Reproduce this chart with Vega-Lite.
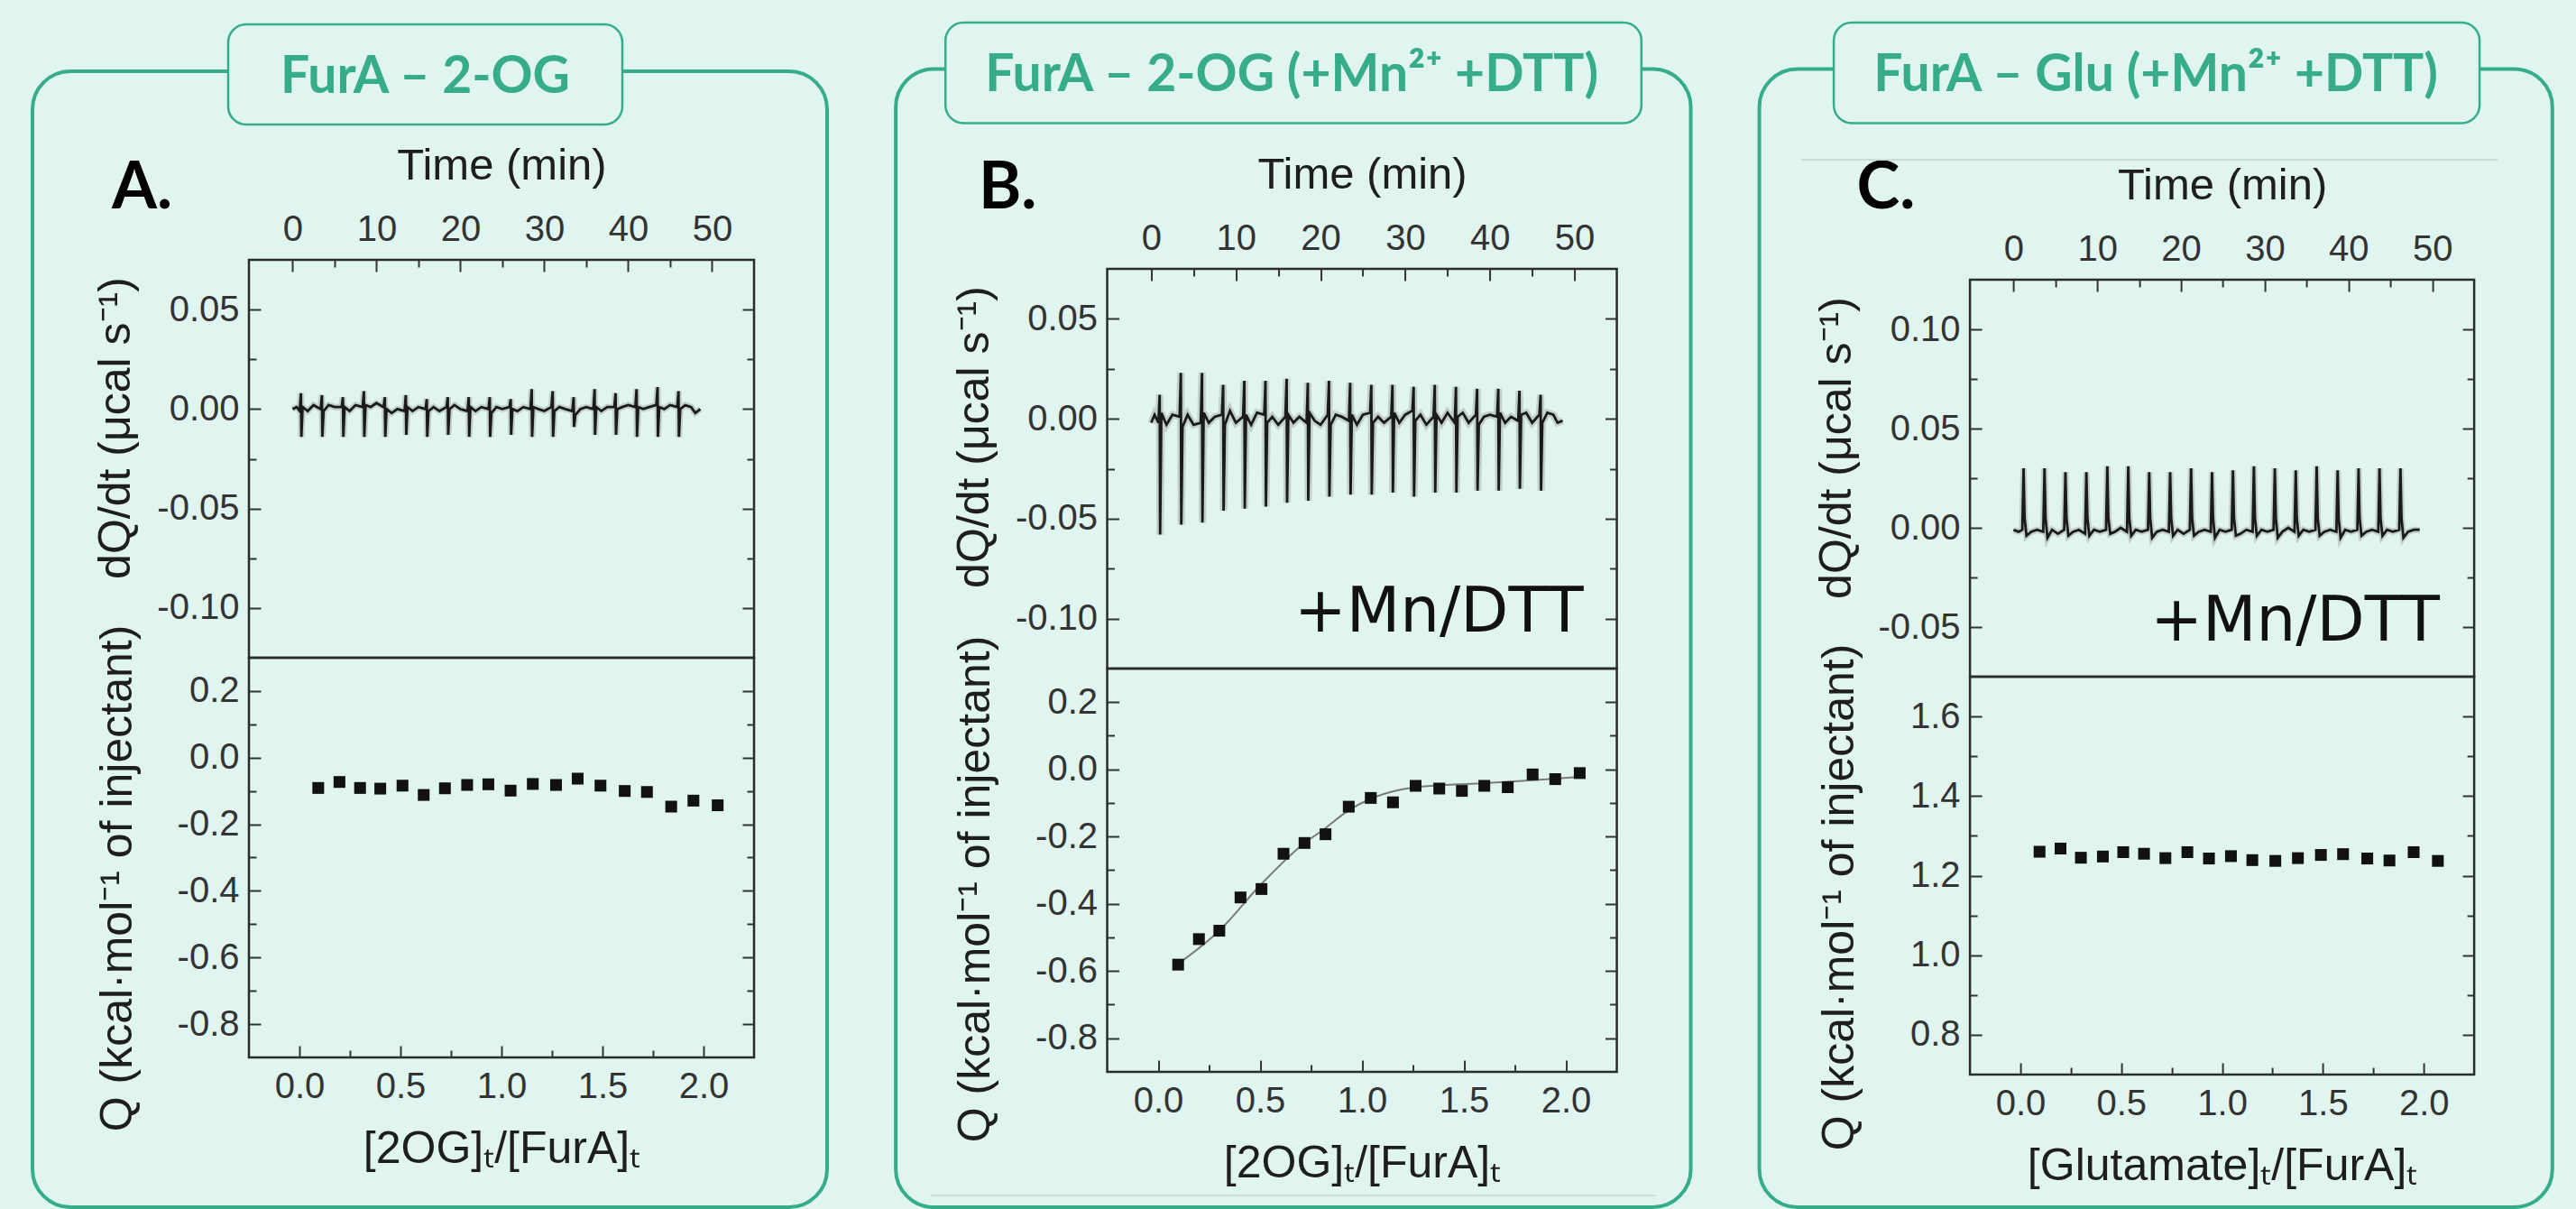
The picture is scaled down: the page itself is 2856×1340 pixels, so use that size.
{
"$schema":"https://vega.github.io/schema/vega-lite/v6.json",
"background":"#E0F5EF",
"padding":{"left":32,"top":22,"right":40,"bottom":10},
"autosize":{"type":"pad"},
"config":{
 "view":{"stroke":"#2b2b2b","strokeWidth":2.5},
 "axis":{"domain":false,"grid":false,"tickColor":"#333333","tickWidth":2,"labelColor":"#333333","labelFont":"Liberation Sans, Arial, sans-serif","labelFontSize":40,"titleFont":"Liberation Sans, Arial, sans-serif","titleFontWeight":"normal","titleColor":"#1e1e1e"}
},
"datasets":{
"traceA":[{"t":0,"v":0},{"t":0.5,"v":0.001},
{"t":0.85,"v":-0.001},{"t":1,"v":0.008},{"t":1.05,"v":-0.014},{"t":1.2,"v":0.001},{"t":1.8,"v":-0.001},{"t":2.5,"v":0.002},
{"t":3.35,"v":0},{"t":3.5,"v":0.007},{"t":3.55,"v":-0.014},{"t":3.7,"v":-0.001},{"t":4.3,"v":0.002},{"t":5,"v":0.001},
{"t":5.85,"v":0.001},{"t":6,"v":0.006},{"t":6.05,"v":-0.014},{"t":6.2,"v":0.001},{"t":6.8,"v":-0.001},{"t":7.5,"v":0.002},
{"t":8.35,"v":0.001},{"t":8.5,"v":0.009},{"t":8.55,"v":-0.014},{"t":8.7,"v":0.002},{"t":9.3,"v":0.001},{"t":10,"v":0.003},
{"t":10.85,"v":0.001},{"t":11,"v":0.006},{"t":11.05,"v":-0.014},{"t":11.2,"v":0},{"t":11.8,"v":-0.002},{"t":12.5,"v":0},
{"t":13.35,"v":-0.001},{"t":13.5,"v":0.007},{"t":13.55,"v":-0.013},{"t":13.7,"v":0.001},{"t":14.3,"v":-0.001},{"t":15,"v":0.001},
{"t":15.85,"v":0},{"t":16,"v":0.005},{"t":16.05,"v":-0.014},{"t":16.2,"v":-0.001},{"t":16.8,"v":0.001},{"t":17.5,"v":-0.001},
{"t":18.35,"v":0.001},{"t":18.5,"v":0.006},{"t":18.55,"v":-0.013},{"t":18.7,"v":0},{"t":19.3,"v":0.002},{"t":20,"v":0},
{"t":20.85,"v":-0.001},{"t":21,"v":0.006},{"t":21.05,"v":-0.014},{"t":21.2,"v":0.001},{"t":21.8,"v":-0.001},{"t":22.5,"v":0.001},
{"t":23.35,"v":0},{"t":23.5,"v":0.006},{"t":23.55,"v":-0.014},{"t":23.7,"v":-0.002},{"t":24.3,"v":0.001},{"t":25,"v":0},
{"t":25.85,"v":0.001},{"t":26,"v":0.005},{"t":26.05,"v":-0.013},{"t":26.2,"v":0},{"t":26.8,"v":-0.001},{"t":27.5,"v":0.001},
{"t":28.35,"v":0},{"t":28.5,"v":0.01},{"t":28.55,"v":-0.014},{"t":28.7,"v":0.001},{"t":29.3,"v":0},{"t":30,"v":-0.001},
{"t":30.85,"v":0.001},{"t":31,"v":0.009},{"t":31.05,"v":-0.014},{"t":31.2,"v":-0.001},{"t":31.8,"v":0.001},{"t":32.5,"v":0},
{"t":33.35,"v":-0.001},{"t":33.5,"v":0.006},{"t":33.55,"v":-0.009},{"t":33.7,"v":-0.003},{"t":34.3,"v":0},{"t":35,"v":0.001},
{"t":35.85,"v":0},{"t":36,"v":0.01},{"t":36.05,"v":-0.013},{"t":36.2,"v":0.001},{"t":36.8,"v":-0.001},{"t":37.5,"v":0.001},
{"t":38.35,"v":0.001},{"t":38.5,"v":0.008},{"t":38.55,"v":-0.013},{"t":38.7,"v":0},{"t":39.3,"v":0.001},{"t":40,"v":0.002},
{"t":40.85,"v":0.001},{"t":41,"v":0.01},{"t":41.05,"v":-0.014},{"t":41.2,"v":0.001},{"t":41.8,"v":0},{"t":42.5,"v":0.001},
{"t":43.35,"v":0.002},{"t":43.5,"v":0.011},{"t":43.55,"v":-0.014},{"t":43.7,"v":0.001},{"t":44.3,"v":0},{"t":45,"v":0.002},
{"t":45.85,"v":0.001},{"t":46,"v":0.009},{"t":46.05,"v":-0.014},{"t":46.2,"v":0},{"t":46.8,"v":0.002},{"t":47.5,"v":0.001},
{"t":48,"v":-0.002},{"t":48.6,"v":0}],
"traceB":[{"t":0,"v":-0.002},{"t":0.4,"v":0.002},
{"t":0.85,"v":-0.002},{"t":1,"v":0.012},{"t":1.05,"v":-0.058},{"t":1.2,"v":0.003},{"t":1.8,"v":-0.003},{"t":2.5,"v":0.002},
{"t":3.35,"v":0.001},{"t":3.5,"v":0.023},{"t":3.55,"v":-0.053},{"t":3.7,"v":-0.004},{"t":4.3,"v":0.002},{"t":5,"v":-0.003},
{"t":5.85,"v":-0.002},{"t":6,"v":0.023},{"t":6.05,"v":-0.052},{"t":6.2,"v":0.003},{"t":6.8,"v":-0.002},{"t":7.5,"v":0.001},
{"t":8.35,"v":0.002},{"t":8.5,"v":0.017},{"t":8.55,"v":-0.046},{"t":8.7,"v":-0.003},{"t":9.3,"v":0.004},{"t":10,"v":-0.002},
{"t":10.85,"v":0.001},{"t":11,"v":0.019},{"t":11.05,"v":-0.045},{"t":11.2,"v":0.002},{"t":11.8,"v":-0.003},{"t":12.5,"v":0.003},
{"t":13.35,"v":0.002},{"t":13.5,"v":0.019},{"t":13.55,"v":-0.044},{"t":13.7,"v":-0.002},{"t":14.3,"v":0.001},{"t":15,"v":-0.003},
{"t":15.85,"v":0.001},{"t":16,"v":0.02},{"t":16.05,"v":-0.042},{"t":16.2,"v":0.002},{"t":16.8,"v":-0.002},{"t":17.5,"v":0.001},
{"t":18.35,"v":-0.002},{"t":18.5,"v":0.018},{"t":18.55,"v":-0.041},{"t":18.7,"v":0.003},{"t":19.3,"v":-0.001},{"t":20,"v":-0.003},
{"t":20.85,"v":0.002},{"t":21,"v":0.019},{"t":21.05,"v":-0.039},{"t":21.2,"v":-0.003},{"t":21.8,"v":0.002},{"t":22.5,"v":0.001},
{"t":23.35,"v":-0.001},{"t":23.5,"v":0.018},{"t":23.55,"v":-0.038},{"t":23.7,"v":0.002},{"t":24.3,"v":-0.003},{"t":25,"v":0.002},
{"t":25.85,"v":0.003},{"t":26,"v":0.017},{"t":26.05,"v":-0.038},{"t":26.2,"v":-0.002},{"t":26.8,"v":0.001},{"t":27.5,"v":-0.002},
{"t":28.35,"v":0.001},{"t":28.5,"v":0.017},{"t":28.55,"v":-0.037},{"t":28.7,"v":0.003},{"t":29.3,"v":-0.002},{"t":30,"v":0.002},
{"t":30.85,"v":0.004},{"t":31,"v":0.016},{"t":31.05,"v":-0.039},{"t":31.2,"v":-0.001},{"t":31.8,"v":0.002},{"t":32.5,"v":-0.003},
{"t":33.35,"v":0.001},{"t":33.5,"v":0.017},{"t":33.55,"v":-0.037},{"t":33.7,"v":0.002},{"t":34.3,"v":-0.002},{"t":35,"v":0.003},
{"t":35.85,"v":-0.002},{"t":36,"v":0.016},{"t":36.05,"v":-0.037},{"t":36.2,"v":0.001},{"t":36.8,"v":0.003},{"t":37.5,"v":-0.002},
{"t":38.35,"v":0.002},{"t":38.5,"v":0.015},{"t":38.55,"v":-0.036},{"t":38.7,"v":-0.003},{"t":39.3,"v":0.001},{"t":40,"v":0.002},
{"t":40.85,"v":0.001},{"t":41,"v":0.015},{"t":41.05,"v":-0.036},{"t":41.2,"v":0.003},{"t":41.8,"v":-0.002},{"t":42.5,"v":0.001},
{"t":43.35,"v":-0.001},{"t":43.5,"v":0.014},{"t":43.55,"v":-0.035},{"t":43.7,"v":0.002},{"t":44.3,"v":0.003},{"t":45,"v":-0.002},
{"t":45.85,"v":0.002},{"t":46,"v":0.012},{"t":46.05,"v":-0.036},{"t":46.2,"v":-0.002},{"t":46.8,"v":0.003},{"t":47.5,"v":0.002},
{"t":48,"v":-0.002},{"t":48.6,"v":-0.001}],
"traceC":[{"t":0,"v":-0.001},{"t":0.6,"v":-0.002},
{"t":1.05,"v":-0.001},{"t":1.2,"v":0.03},{"t":1.32,"v":0.005},{"t":1.55,"v":-0.004},{"t":2.1,"v":-0.002},{"t":2.8,"v":-0.001},
{"t":3.55,"v":-0.002},{"t":3.7,"v":0.03},{"t":3.82,"v":0.005},{"t":4.05,"v":-0.005},{"t":4.6,"v":-0.001},{"t":5.3,"v":-0.003},
{"t":6.05,"v":-0.001},{"t":6.2,"v":0.028},{"t":6.32,"v":0.005},{"t":6.55,"v":-0.004},{"t":7.1,"v":-0.002},{"t":7.8,"v":-0.001},
{"t":8.55,"v":-0.003},{"t":8.7,"v":0.028},{"t":8.82,"v":0.005},{"t":9.05,"v":-0.004},{"t":9.6,"v":-0.001},{"t":10.3,"v":-0.002},
{"t":11.05,"v":-0.001},{"t":11.2,"v":0.031},{"t":11.32,"v":0.005},{"t":11.55,"v":-0.003},{"t":12.1,"v":-0.002},{"t":12.8,"v":0},
{"t":13.55,"v":-0.002},{"t":13.7,"v":0.031},{"t":13.82,"v":0.005},{"t":14.05,"v":-0.004},{"t":14.6,"v":-0.001},{"t":15.3,"v":-0.002},
{"t":16.05,"v":-0.001},{"t":16.2,"v":0.028},{"t":16.32,"v":0.005},{"t":16.55,"v":-0.005},{"t":17.1,"v":-0.002},{"t":17.8,"v":-0.001},
{"t":18.55,"v":-0.002},{"t":18.7,"v":0.028},{"t":18.82,"v":0.005},{"t":19.05,"v":-0.004},{"t":19.6,"v":-0.001},{"t":20.3,"v":-0.003},
{"t":21.05,"v":-0.001},{"t":21.2,"v":0.03},{"t":21.32,"v":0.005},{"t":21.55,"v":-0.004},{"t":22.1,"v":-0.002},{"t":22.8,"v":-0.001},
{"t":23.55,"v":-0.002},{"t":23.7,"v":0.028},{"t":23.82,"v":0.005},{"t":24.05,"v":-0.005},{"t":24.6,"v":-0.001},{"t":25.3,"v":-0.002},
{"t":26.05,"v":-0.001},{"t":26.2,"v":0.029},{"t":26.32,"v":0.005},{"t":26.55,"v":-0.004},{"t":27.1,"v":-0.003},{"t":27.8,"v":-0.001},
{"t":28.55,"v":-0.002},{"t":28.7,"v":0.031},{"t":28.82,"v":0.005},{"t":29.05,"v":-0.004},{"t":29.6,"v":-0.001},{"t":30.3,"v":-0.002},
{"t":31.05,"v":-0.001},{"t":31.2,"v":0.03},{"t":31.32,"v":0.005},{"t":31.55,"v":-0.005},{"t":32.1,"v":-0.002},{"t":32.8,"v":0},
{"t":33.55,"v":-0.002},{"t":33.7,"v":0.029},{"t":33.82,"v":0.005},{"t":34.05,"v":-0.004},{"t":34.6,"v":-0.001},{"t":35.3,"v":-0.002},
{"t":36.05,"v":-0.001},{"t":36.2,"v":0.031},{"t":36.32,"v":0.005},{"t":36.55,"v":-0.004},{"t":37.1,"v":-0.002},{"t":37.8,"v":-0.001},
{"t":38.55,"v":-0.002},{"t":38.7,"v":0.029},{"t":38.82,"v":0.005},{"t":39.05,"v":-0.005},{"t":39.6,"v":-0.001},{"t":40.3,"v":-0.002},
{"t":41.05,"v":-0.001},{"t":41.2,"v":0.03},{"t":41.32,"v":0.005},{"t":41.55,"v":-0.004},{"t":42.1,"v":-0.002},{"t":42.8,"v":-0.001},
{"t":43.55,"v":-0.002},{"t":43.7,"v":0.03},{"t":43.82,"v":0.005},{"t":44.05,"v":-0.004},{"t":44.6,"v":-0.001},{"t":45.3,"v":-0.002},
{"t":46.05,"v":-0.001},{"t":46.2,"v":0.03},{"t":46.32,"v":0.005},{"t":46.55,"v":-0.005},{"t":47.1,"v":-0.002},{"t":47.8,"v":-0.001},
{"t":48.5,"v":-0.001}],
"ptsA":[{"r":0.093,"q":-0.091},{"r":0.198,"q":-0.073},{"r":0.3,"q":-0.091},{"r":0.4,"q":-0.093},{"r":0.51,"q":-0.084},{"r":0.615,"q":-0.112},{"r":0.72,"q":-0.092},{"r":0.83,"q":-0.082},{"r":0.935,"q":-0.08},{"r":1.045,"q":-0.099},{"r":1.155,"q":-0.079},{"r":1.27,"q":-0.082},{"r":1.377,"q":-0.063},{"r":1.49,"q":-0.084},{"r":1.61,"q":-0.1},{"r":1.72,"q":-0.103},{"r":1.84,"q":-0.147},{"r":1.95,"q":-0.129},{"r":2.07,"q":-0.143}],
"ptsB":[{"r":0.098,"q":-0.581},{"r":0.2,"q":-0.505},{"r":0.3,"q":-0.48},{"r":0.404,"q":-0.381},{"r":0.507,"q":-0.356},{"r":0.615,"q":-0.251},{"r":0.718,"q":-0.219},{"r":0.821,"q":-0.193},{"r":0.935,"q":-0.111},{"r":1.043,"q":-0.085},{"r":1.152,"q":-0.098},{"r":1.263,"q":-0.049},{"r":1.379,"q":-0.057},{"r":1.49,"q":-0.064},{"r":1.6,"q":-0.049},{"r":1.715,"q":-0.053},{"r":1.837,"q":-0.015},{"r":1.948,"q":-0.029},{"r":2.068,"q":-0.011}],
"fitB":[{"r":0.1,"q":-0.578},{"r":0.3,"q":-0.48},{"r":0.5,"q":-0.345},{"r":0.7,"q":-0.228},{"r":0.82,"q":-0.175},{"r":0.93,"q":-0.124},{"r":1.04,"q":-0.088},{"r":1.15,"q":-0.066},{"r":1.26,"q":-0.053},{"r":1.38,"q":-0.047},{"r":1.6,"q":-0.041},{"r":1.84,"q":-0.032},{"r":2.07,"q":-0.022}],
"ptsC":[{"r":0.095,"q":1.26},{"r":0.199,"q":1.268},{"r":0.3,"q":1.245},{"r":0.409,"q":1.248},{"r":0.51,"q":1.259},{"r":0.613,"q":1.255},{"r":0.719,"q":1.244},{"r":0.828,"q":1.259},{"r":0.935,"q":1.243},{"r":1.044,"q":1.249},{"r":1.15,"q":1.239},{"r":1.264,"q":1.237},{"r":1.376,"q":1.244},{"r":1.49,"q":1.252},{"r":1.6,"q":1.254},{"r":1.72,"q":1.243},{"r":1.83,"q":1.238},{"r":1.95,"q":1.259},{"r":2.07,"q":1.237}]
},
"spacing":68.55,
"hconcat":[
{"spacing":0,"bounds":"flush","vconcat":[
 {"width":560,"height":441,"resolve":{"axis":{"x":"independent","y":"independent"}},"layer":[
  {"data":{"name":"traceA"},"mark":{"type":"line","color":"#7a7a7a","strokeWidth":7,"opacity":0.3},
   "encoding":{"x":{"field":"t","type":"quantitative","scale":{"domain":[-5.2,55],"nice":false,"zero":false},
     "axis":{"orient":"top","values":[0,5,10,15,20,25,30,35,40,45,50],"title":"Time (min)","titleFontSize":49,"titlePadding":26,"labelPadding":27,"labelExpr":"datum.value % 10 == 0 ? datum.label : ''","tickSize":{"condition":{"test":"datum.value % 10 != 0","value":-8},"value":-13}}},
    "y":{"field":"v","type":"quantitative","scale":{"domain":[-0.125,0.075],"nice":false,"zero":false},
     "axis":{"orient":"left","values":[-0.1,-0.075,-0.05,-0.025,0,0.025,0.05],"title":"dQ/dt (μcal s⁻¹)","titleFontSize":50,"titlePadding":20,"titleY":186,"labelPadding":24,"labelExpr":"abs(datum.value*20-round(datum.value*20))>0.1 ? '' : replace(format(datum.value,'.2f'),'−','-')","tickSize":{"condition":{"test":"abs(datum.value*20-round(datum.value*20))>0.1","value":-8},"value":-13}}}}},
  {"data":{"name":"traceA"},"mark":{"type":"line","color":"#1a1a1a","strokeWidth":2.8},
   "encoding":{"x":{"field":"t","type":"quantitative","axis":null},"y":{"field":"v","type":"quantitative","axis":null}}},
  {"data":{"values":[{}]},"mark":{"type":"rule","opacity":0},
   "encoding":{"y":{"datum":0,"type":"quantitative","axis":{"orient":"right","values":[-0.1,-0.075,-0.05,-0.025,0,0.025,0.05],"labels":false,"title":null,"tickSize":{"condition":{"test":"abs(datum.value*20-round(datum.value*20))>0.1","value":-8},"value":-13}}}}},
  {"data":{"values":[{"label":"A."}]},"mark":{"type":"text","font":"Lato","fontWeight":"bold","fontSize":72,"align":"left","baseline":"alphabetic","fill":"#000000","clip":false},
   "encoding":{"x":{"datum":-21.54,"type":"quantitative","axis":null},"y":{"datum":0.1009,"type":"quantitative","axis":null},"text":{"field":"label","type":"nominal"}}}
 ]},
 {"width":560,"height":443,"resolve":{"axis":{"x":"independent","y":"independent"}},"layer":[
  {"data":{"name":"ptsA"},"mark":{"type":"square","size":170,"color":"#111111","opacity":1},
   "encoding":{"x":{"field":"r","type":"quantitative","scale":{"domain":[-0.25,2.25],"nice":false,"zero":false},
     "axis":{"orient":"bottom","values":[0,0.25,0.5,0.75,1,1.25,1.5,1.75,2],"title":"[2OG]ₜ/[FurA]ₜ","titleFontSize":50,"titlePadding":24,"labelPadding":25,"labelExpr":"abs(datum.value*2-round(datum.value*2))>0.1 ? '' : format(datum.value,'.1f')","tickSize":{"condition":{"test":"abs(datum.value*2-round(datum.value*2))>0.1","value":-8},"value":-13}}},
    "y":{"field":"q","type":"quantitative","scale":{"domain":[-0.9,0.3],"nice":false,"zero":false},
     "axis":{"orient":"left","values":[-0.8,-0.7,-0.6,-0.5,-0.4,-0.3,-0.2,-0.1,0,0.1,0.2],"title":"Q (kcal·mol⁻¹  of injectant)","titleFontSize":50,"titlePadding":41,"titleY":244,"labelPadding":24,"labelExpr":"abs(datum.value*5-round(datum.value*5))>0.1 ? '' : replace(format(datum.value,'.1f'),'−','-')","tickSize":{"condition":{"test":"abs(datum.value*5-round(datum.value*5))>0.1","value":-8},"value":-13}}}}},
  {"data":{"values":[{}]},"mark":{"type":"rule","opacity":0},
   "encoding":{"y":{"datum":0,"type":"quantitative","axis":{"orient":"right","values":[-0.8,-0.7,-0.6,-0.5,-0.4,-0.3,-0.2,-0.1,0,0.1,0.2],"labels":false,"title":null,"tickSize":{"condition":{"test":"abs(datum.value*5-round(datum.value*5))>0.1","value":-8},"value":-13}}}}},
  {"data":{"values":[{}]},"mark":{"type":"rect","fill":"transparent","stroke":"#36AC88","strokeWidth":4,"cornerRadius":42,"clip":false},
   "encoding":{"x":{"datum":-1.3214,"type":"quantitative","axis":null},"x2":{"datum":2.6116},"y":{"datum":2.0607,"type":"quantitative","axis":null},"y2":{"datum":-1.3497}}},
  {"data":{"values":[{}]},"mark":{"type":"rect","fill":"#E0F5EF","stroke":"#36AC88","strokeWidth":2.5,"cornerRadius":20,"clip":false},
   "encoding":{"x":{"datum":-0.3527,"type":"quantitative","axis":null},"x2":{"datum":1.5982},"y":{"datum":2.2016,"type":"quantitative","axis":null},"y2":{"datum":1.9009}}},
  {"data":{"values":[{"label":"FurA – 2-OG"}]},"mark":{"type":"text","font":"Lato","fontWeight":"bold","fontSize":57,"align":"center","baseline":"alphabetic","fill":"#36AC88","clip":false},
   "encoding":{"x":{"datum":0.6228,"type":"quantitative","axis":null},"y":{"datum":1.9957,"type":"quantitative","axis":null},"text":{"field":"label","type":"nominal"}}}
 ]}
]},
{"spacing":0,"bounds":"flush","vconcat":[
 {"width":565,"height":10,"data":{"values":[{}]},"mark":{"type":"point","opacity":0},"encoding":{},"view":{"stroke":null}},
 {"width":565,"height":443,"resolve":{"axis":{"x":"independent","y":"independent"}},"layer":[
  {"data":{"name":"traceB"},"mark":{"type":"line","color":"#7a7a7a","strokeWidth":8,"opacity":0.3},
   "encoding":{"x":{"field":"t","type":"quantitative","scale":{"domain":[-5.2,55],"nice":false,"zero":false},
     "axis":{"orient":"top","values":[0,5,10,15,20,25,30,35,40,45,50],"title":"Time (min)","titleFontSize":49,"titlePadding":26,"labelPadding":27,"labelExpr":"datum.value % 10 == 0 ? datum.label : ''","tickSize":{"condition":{"test":"datum.value % 10 != 0","value":-8},"value":-13}}},
    "y":{"field":"v","type":"quantitative","scale":{"domain":[-0.125,0.075],"nice":false,"zero":false},
     "axis":{"orient":"left","values":[-0.1,-0.075,-0.05,-0.025,0,0.025,0.05],"title":"dQ/dt (μcal s⁻¹)","titleFontSize":50,"titlePadding":20,"titleY":186,"labelPadding":24,"labelExpr":"abs(datum.value*20-round(datum.value*20))>0.1 ? '' : replace(format(datum.value,'.2f'),'−','-')","tickSize":{"condition":{"test":"abs(datum.value*20-round(datum.value*20))>0.1","value":-8},"value":-13}}}}},
  {"data":{"name":"traceB"},"mark":{"type":"line","color":"#1a1a1a","strokeWidth":2.8},
   "encoding":{"x":{"field":"t","type":"quantitative","axis":null},"y":{"field":"v","type":"quantitative","axis":null}}},
  {"data":{"values":[{}]},"mark":{"type":"rule","opacity":0},
   "encoding":{"y":{"datum":0,"type":"quantitative","axis":{"orient":"right","values":[-0.1,-0.075,-0.05,-0.025,0,0.025,0.05],"labels":false,"title":null,"tickSize":{"condition":{"test":"abs(datum.value*20-round(datum.value*20))>0.1","value":-8},"value":-13}}}}},
  {"data":{"values":[{"label":"B."}]},"mark":{"type":"text","font":"Lato","fontWeight":"bold","fontSize":72,"align":"left","baseline":"alphabetic","fill":"#000000","clip":false},
   "encoding":{"x":{"datum":-20.394,"type":"quantitative","axis":null},"y":{"datum":0.1053,"type":"quantitative","axis":null},"text":{"field":"label","type":"nominal"}}},
  {"data":{"values":[{"label":"+Mn/DTT"}]},"mark":{"type":"text","font":"DejaVu Sans","fontSize":69,"align":"right","baseline":"alphabetic","fill":"#111111","clip":false},
   "encoding":{"x":{"datum":51.06,"type":"quantitative","axis":null},"y":{"datum":-0.1063,"type":"quantitative","axis":null},"text":{"field":"label","type":"nominal"}}}
 ]},
 {"width":565,"height":447,"resolve":{"axis":{"x":"independent","y":"independent"}},"layer":[
  {"data":{"name":"fitB"},"mark":{"type":"line","color":"#7a7a7a","strokeWidth":2,"interpolate":"monotone"},
   "encoding":{"x":{"field":"r","type":"quantitative","scale":{"domain":[-0.25,2.25],"nice":false,"zero":false},
     "axis":{"orient":"bottom","values":[0,0.25,0.5,0.75,1,1.25,1.5,1.75,2],"title":"[2OG]ₜ/[FurA]ₜ","titleFontSize":50,"titlePadding":24,"labelPadding":25,"labelExpr":"abs(datum.value*2-round(datum.value*2))>0.1 ? '' : format(datum.value,'.1f')","tickSize":{"condition":{"test":"abs(datum.value*2-round(datum.value*2))>0.1","value":-8},"value":-13}}},
    "y":{"field":"q","type":"quantitative","scale":{"domain":[-0.9,0.3],"nice":false,"zero":false},
     "axis":{"orient":"left","values":[-0.8,-0.7,-0.6,-0.5,-0.4,-0.3,-0.2,-0.1,0,0.1,0.2],"title":"Q (kcal·mol⁻¹  of injectant)","titleFontSize":50,"titlePadding":41,"titleY":244,"labelPadding":24,"labelExpr":"abs(datum.value*5-round(datum.value*5))>0.1 ? '' : replace(format(datum.value,'.1f'),'−','-')","tickSize":{"condition":{"test":"abs(datum.value*5-round(datum.value*5))>0.1","value":-8},"value":-13}}}}},
  {"data":{"name":"ptsB"},"mark":{"type":"square","size":170,"color":"#111111","opacity":1},
   "encoding":{"x":{"field":"r","type":"quantitative","axis":null},"y":{"field":"q","type":"quantitative","axis":null}}},
  {"data":{"values":[{}]},"mark":{"type":"rule","opacity":0},
   "encoding":{"y":{"datum":0,"type":"quantitative","axis":{"orient":"right","values":[-0.8,-0.7,-0.6,-0.5,-0.4,-0.3,-0.2,-0.1,0,0.1,0.2],"labels":false,"title":null,"tickSize":{"condition":{"test":"abs(datum.value*5-round(datum.value*5))>0.1","value":-8},"value":-13}}}}},
  {"data":{"values":[{}]},"mark":{"type":"rect","fill":"transparent","stroke":"#36AC88","strokeWidth":4,"cornerRadius":42,"clip":false},
   "encoding":{"x":{"datum":-1.2872,"type":"quantitative","axis":null},"x2":{"datum":2.6128},"y":{"datum":2.0836,"type":"quantitative","axis":null},"y2":{"datum":-1.3027}}},
  {"data":{"values":[{}]},"mark":{"type":"rect","fill":"#E0F5EF","stroke":"#36AC88","strokeWidth":2.5,"cornerRadius":20,"clip":false},
   "encoding":{"x":{"datum":-1.0434,"type":"quantitative","axis":null},"x2":{"datum":2.3708},"y":{"datum":2.2221,"type":"quantitative","axis":null},"y2":{"datum":1.9228}}},
  {"data":{"values":[{"label":"FurA – 2-OG (+Mn²⁺ +DTT)"}]},"mark":{"type":"text","font":"Lato","fontWeight":"bold","fontSize":57,"align":"center","baseline":"alphabetic","fill":"#36AC88","clip":false},
   "encoding":{"x":{"datum":0.6553,"type":"quantitative","axis":null},"y":{"datum":2.0181,"type":"quantitative","axis":null},"text":{"field":"label","type":"nominal"}}},
  {"data":{"values":[{}]},"mark":{"type":"rule","color":"#c9dcd5","strokeWidth":2,"clip":false},
   "encoding":{"x":{"datum":-1.1173,"type":"quantitative","axis":null},"x2":{"datum":2.4403},"y":{"datum":-1.2678,"type":"quantitative","axis":null}}}
 ]}
]},
{"spacing":0,"bounds":"flush","vconcat":[
 {"width":559,"height":22,"data":{"values":[{}]},"mark":{"type":"point","opacity":0},"encoding":{},"view":{"stroke":null}},
 {"width":559,"height":440,"resolve":{"axis":{"x":"independent","y":"independent"}},"layer":[
  {"data":{"name":"traceC"},"mark":{"type":"line","color":"#7a7a7a","strokeWidth":7,"opacity":0.3},
   "encoding":{"x":{"field":"t","type":"quantitative","scale":{"domain":[-5.2,55],"nice":false,"zero":false},
     "axis":{"orient":"top","values":[0,5,10,15,20,25,30,35,40,45,50],"title":"Time (min)","titleFontSize":49,"titlePadding":26,"labelPadding":27,"labelExpr":"datum.value % 10 == 0 ? datum.label : ''","tickSize":{"condition":{"test":"datum.value % 10 != 0","value":-8},"value":-13}}},
    "y":{"field":"v","type":"quantitative","scale":{"domain":[-0.075,0.125],"nice":false,"zero":false},
     "axis":{"orient":"left","values":[-0.05,-0.025,0,0.025,0.05,0.075,0.1],"title":"dQ/dt (μcal s⁻¹)","titleFontSize":50,"titlePadding":20,"titleY":186,"labelPadding":24,"labelExpr":"abs(datum.value*20-round(datum.value*20))>0.1 ? '' : replace(format(datum.value,'.2f'),'−','-')","tickSize":{"condition":{"test":"abs(datum.value*20-round(datum.value*20))>0.1","value":-8},"value":-13}}}}},
  {"data":{"name":"traceC"},"mark":{"type":"line","color":"#1a1a1a","strokeWidth":2.8},
   "encoding":{"x":{"field":"t","type":"quantitative","axis":null},"y":{"field":"v","type":"quantitative","axis":null}}},
  {"data":{"values":[{}]},"mark":{"type":"rule","opacity":0},
   "encoding":{"y":{"datum":0,"type":"quantitative","axis":{"orient":"right","values":[-0.05,-0.025,0,0.025,0.05,0.075,0.1],"labels":false,"title":null,"tickSize":{"condition":{"test":"abs(datum.value*20-round(datum.value*20))>0.1","value":-8},"value":-13}}}}},
  {"data":{"values":[{"label":"C."}]},"mark":{"type":"text","font":"Lato","fontWeight":"bold","fontSize":72,"align":"left","baseline":"alphabetic","fill":"#000000","clip":false},
   "encoding":{"x":{"datum":-18.726,"type":"quantitative","axis":null},"y":{"datum":0.1609,"type":"quantitative","axis":null},"text":{"field":"label","type":"nominal"}}},
  {"data":{"values":[{"label":"+Mn/DTT"}]},"mark":{"type":"text","font":"DejaVu Sans","fontSize":69,"align":"right","baseline":"alphabetic","fill":"#111111","clip":false},
   "encoding":{"x":{"datum":50.875,"type":"quantitative","axis":null},"y":{"datum":-0.0568,"type":"quantitative","axis":null},"text":{"field":"label","type":"nominal"}}}
 ]},
 {"width":559,"height":441,"resolve":{"axis":{"x":"independent","y":"independent"}},"layer":[
  {"data":{"name":"ptsC"},"mark":{"type":"square","size":170,"color":"#111111","opacity":1},
   "encoding":{"x":{"field":"r","type":"quantitative","scale":{"domain":[-0.25,2.25],"nice":false,"zero":false},
     "axis":{"orient":"bottom","values":[0,0.25,0.5,0.75,1,1.25,1.5,1.75,2],"title":"[Glutamate]ₜ/[FurA]ₜ","titleFontSize":50,"titlePadding":24,"labelPadding":25,"labelExpr":"abs(datum.value*2-round(datum.value*2))>0.1 ? '' : format(datum.value,'.1f')","tickSize":{"condition":{"test":"abs(datum.value*2-round(datum.value*2))>0.1","value":-8},"value":-13}}},
    "y":{"field":"q","type":"quantitative","scale":{"domain":[0.7,1.7],"nice":false,"zero":false},
     "axis":{"orient":"left","values":[0.8,0.9,1,1.1,1.2,1.3,1.4,1.5,1.6],"title":"Q (kcal·mol⁻¹  of injectant)","titleFontSize":50,"titlePadding":53,"titleY":244,"labelPadding":24,"labelExpr":"abs(datum.value*5-round(datum.value*5))>0.1 ? '' : format(datum.value,'.1f')","tickSize":{"condition":{"test":"abs(datum.value*5-round(datum.value*5))>0.1","value":-8},"value":-13}}}}},
  {"data":{"values":[{}]},"mark":{"type":"rule","opacity":0},
   "encoding":{"y":{"datum":1.2,"type":"quantitative","axis":{"orient":"right","values":[0.8,0.9,1,1.1,1.2,1.3,1.4,1.5,1.6],"labels":false,"title":null,"tickSize":{"condition":{"test":"abs(datum.value*5-round(datum.value*5))>0.1","value":-8},"value":-13}}}}},
  {"data":{"values":[{}]},"mark":{"type":"rect","fill":"transparent","stroke":"#36AC88","strokeWidth":4,"cornerRadius":42,"clip":false},
   "encoding":{"x":{"datum":-1.2943,"type":"quantitative","axis":null},"x2":{"datum":2.6377},"y":{"datum":3.227,"type":"quantitative","axis":null},"y2":{"datum":0.3667}}},
  {"data":{"values":[{}]},"mark":{"type":"rule","color":"#c9dcd5","strokeWidth":2,"clip":false},
   "encoding":{"x":{"datum":-1.0863,"type":"quantitative","axis":null},"x2":{"datum":2.3663},"y":{"datum":2.9993,"type":"quantitative","axis":null}}},
  {"data":{"values":[{}]},"mark":{"type":"rect","fill":"#E0F5EF","stroke":"#36AC88","strokeWidth":2.5,"cornerRadius":20,"clip":false},
   "encoding":{"x":{"datum":-0.9253,"type":"quantitative","axis":null},"x2":{"datum":2.2768},"y":{"datum":3.344,"type":"quantitative","axis":null},"y2":{"datum":3.0912}}},
  {"data":{"values":[{"label":"FurA – Glu (+Mn²⁺ +DTT)"}]},"mark":{"type":"text","font":"Lato","fontWeight":"bold","fontSize":57,"align":"center","baseline":"alphabetic","fill":"#36AC88","clip":false},
   "encoding":{"x":{"datum":0.6713,"type":"quantitative","axis":null},"y":{"datum":3.1717,"type":"quantitative","axis":null},"text":{"field":"label","type":"nominal"}}}
 ]}
]}
]
}
